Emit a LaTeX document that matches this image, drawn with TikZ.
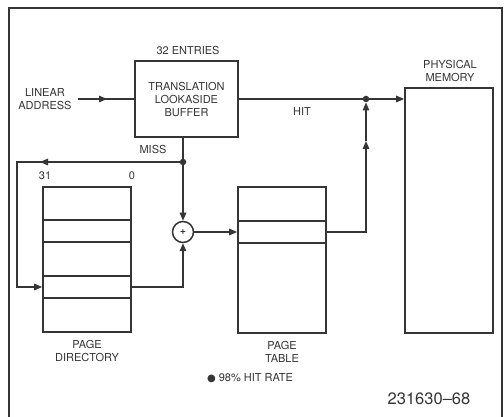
\documentclass[tikz,border=0pt]{standalone}
\usepackage{fontspec}
\setmainfont{TeX Gyre Heros}
\newfontfamily\symfont{DejaVu Sans}
\usetikzlibrary{arrows.meta}
\definecolor{ink}{HTML}{353535}
\begin{document}
\begin{tikzpicture}[x=1pt,y=-1pt,
  every node/.style={text=ink},
  box/.style={draw=ink,line width=1.7pt,inner sep=0pt},
  lbl/.style={font=\fontsize{11}{13}\selectfont,align=center,inner sep=0pt},
  conn/.style={draw=ink,line width=1.4pt},
  tip/.style={-{Triangle[length=8pt,width=6.5pt]}},
  jdot/.style={circle,fill=ink,inner sep=0pt,minimum size=6.5pt},
  row/.style={draw=ink,line width=1.3pt}]
\useasboundingbox (0,0) rectangle (504,417);
\fill[white] (0,0) rectangle (504,417);
% frame
\draw[ink,line width=1.4pt] (9,420) -- (9,8) -- (502,8) -- (502,420);

% TLB
\node[box,minimum width=103pt,minimum height=76pt,lbl] (tlb) at (186.5,99) {TRANSLATION\\LOOKASIDE\\BUFFER};
\node[lbl] (entries) at (188,50) {32 ENTRIES};
\node[lbl] (la) at (45,99.5) {LINEAR\\ADDRESS};
\coordinate (lastart) at (78,99);
\coordinate (laarrow) at (107,99);

% physical memory
\node[box,minimum width=88pt,minimum height=245pt] (pm) at (449,210.5) {};
\node[lbl] (pmlabel) at (450,70.5) {PHYSICAL\\MEMORY};
\node[lbl] (hit) at (302,111) {HIT};
\node[lbl] (miss) at (153,149) {MISS};
\node[jdot] (missdot) at (183,162) {};
\node[jdot] (hitdot) at (366,99) {};

% adder
\node[box,circle,minimum size=21pt,line width=1.5pt] (plus) at (183,232) {\fontsize{10}{10}\selectfont\bfseries +};

% page directory
\node[box,minimum width=88pt,minimum height=145pt] (pd) at (87,259.5) {};
\foreach \y in {220,242,276,298} \draw[row] (43,\y) -- (131,\y);
\node[lbl] (b31) at (45,176) {31};
\node[lbl] (b0) at (132,176) {0};
\node[lbl] (pdlabel) at (87,350.5) {PAGE\\DIRECTORY};

% page table
\node[box,minimum width=88pt,minimum height=146pt] (pt) at (282,260) {};
\foreach \y in {221,243} \draw[row] (238,\y) -- (326,\y);
\node[lbl] (ptlabel) at (282,351.5) {PAGE\\TABLE};

\node[lbl] (rate) at (250,378) {{\symfont\fontsize{10}{10}\selectfont ●} 98\% HIT RATE};
\node[font=\fontsize{16.5}{18}\selectfont,inner sep=0pt] (fig) at (429,399) {231630--68};

% connectors
\draw[conn] (lastart) -- (tlb.west);
\draw[conn,tip] (lastart) -- (laarrow);
\draw[conn] (tlb.east) -- (hitdot);
\draw[conn,tip] (hitdot) -- (pm.west |- hitdot);
\draw[conn] (tlb.south -| missdot) -- (missdot);
\draw[conn,tip] (missdot) -- (plus.north);
\coordinate (loopTL) at (17,162);
\coordinate (loopBL) at (17,287);
\coordinate (lmid) at (40,162);
\draw[conn,tip] (missdot) -- (loopTL) -- (loopBL) -- (pd.west |- loopBL);
\draw[conn,tip] (missdot) -- (lmid);
\draw[conn,tip] (pd.east |- loopBL) -| (plus.south);
\draw[conn,tip] (plus.east) -- (pt.west |- plus.east);
\coordinate (upmid) at (366,141);
\draw[conn,tip] (pt.east |- plus.east) -| (upmid);
\draw[conn,tip] (upmid) -- (hitdot);
\end{tikzpicture}
\end{document}
